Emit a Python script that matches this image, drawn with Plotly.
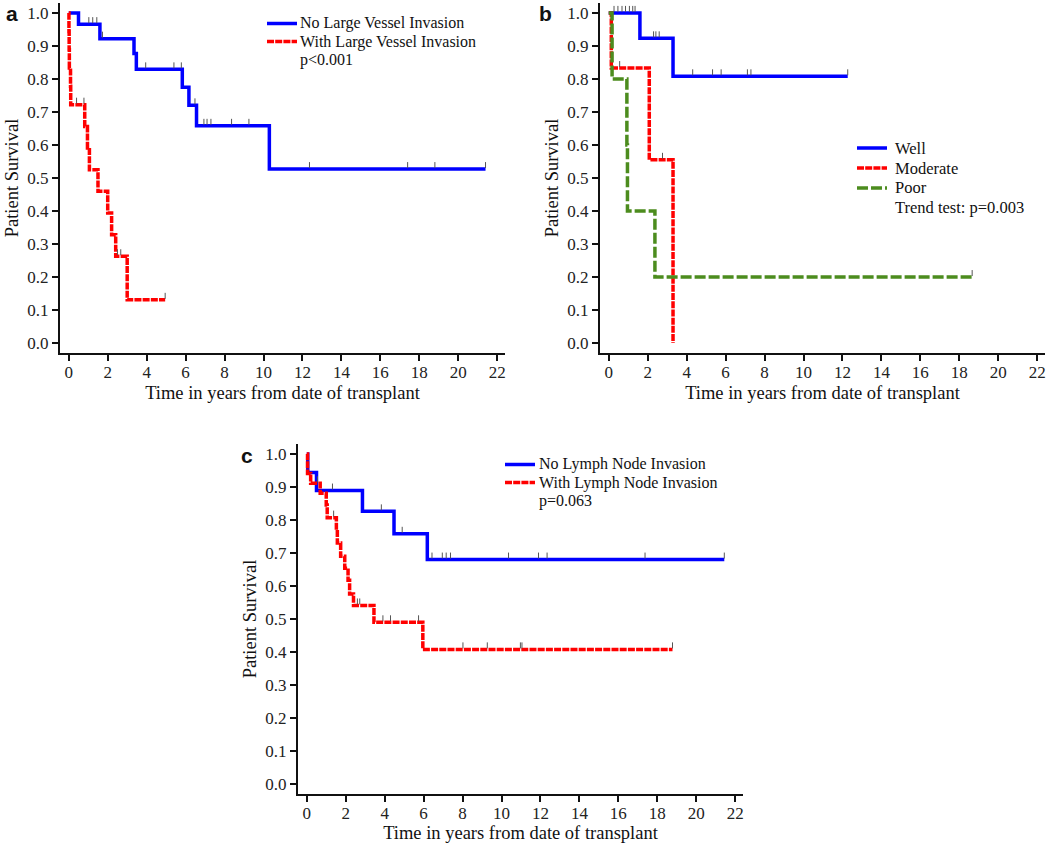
import numpy as np
import plotly.graph_objects as go

# ---- data (step times in years, survival after each step) ----
# panel a
a_no_t = [0, 0.5, 1.6, 3.35, 3.47, 5.83, 6.17, 6.56, 10.3, 21.4]
a_no_s = [1.0, 0.966, 0.922, 0.877, 0.829, 0.775, 0.72, 0.658, 0.527, 0.527]
a_no_cens = [1.03, 1.23, 1.44, 1.73, 3.95, 5.4, 5.78, 6.48, 6.94, 7.1, 7.3, 8.36, 9.25,
             12.36, 17.4, 18.8, 21.4]
a_with_t = [0, 0.01, 0.02, 0.03, 0.09, 0.1, 0.82, 0.96, 1.06, 1.5, 2.0, 2.2, 2.41, 3.0, 4.95]
a_with_s = [1.0, 0.944, 0.889, 0.833, 0.778, 0.722, 0.656, 0.591, 0.525, 0.46, 0.394,
            0.328, 0.263, 0.131, 0.131]
a_with_cens = [0.4, 0.78, 2.5, 2.67, 4.95]
a_labels = ["No Large Vessel Invasion", "With Large Vessel Invasion"]
a_note = "p<0.001"

# panel b
b_well_t = [0, 1.6, 3.3, 12.27]
b_well_s = [1.0, 0.923, 0.808, 0.808]
b_well_cens = [0.27, 0.47, 0.68, 0.86, 1.06, 1.23, 1.35, 2.3, 2.42, 2.59, 4.31, 5.33,
               5.77, 7.12, 7.3, 12.27]
b_mod_t = [0, 0.13, 2.08, 3.3]
b_mod_s = [1.0, 0.833, 0.555, 0.0]
b_mod_cens = [0.56, 2.76]
b_poor_t = [0, 0.17, 0.93, 0.96, 2.37, 18.66]
b_poor_s = [1.0, 0.8, 0.6, 0.4, 0.2, 0.2]
b_poor_cens = [18.66]
b_labels = ["Well", "Moderate", "Poor"]
b_note = "Trend test: p=0.003"

# panel c
c_no_t = [0, 0.05, 0.5, 2.86, 4.48, 6.19, 21.44]
c_no_s = [1.0, 0.944, 0.889, 0.826, 0.758, 0.68, 0.68]
c_no_cens = [1.32, 3.83, 4.9, 6.43, 6.96, 7.16, 7.38, 10.36, 11.9, 12.34, 17.37, 21.44]
c_with_t = [0, 0.04, 0.2, 0.69, 1.0, 1.05, 1.52, 1.57, 1.74, 1.95, 2.12, 2.2, 2.4, 3.45,
            5.96, 18.78]
c_with_s = [1.0, 0.941, 0.911, 0.881, 0.845, 0.807, 0.77, 0.73, 0.69, 0.654, 0.617,
            0.576, 0.541, 0.49, 0.408, 0.408]
c_with_cens = [0.55, 1.38, 2.6, 2.72, 3.91, 4.3, 5.74, 8.02, 9.27, 10.97, 11.05, 18.78]
c_labels = ["No Lymph Node Invasion", "With Lymph Node Invasion"]
c_note = "p=0.063"

x_ticks = list(range(0, 23, 2))
y_ticks = [round(0.1 * i, 1) for i in range(11)]

BLUE = "#0000FF"
RED = "#FF0000"
GREEN = "#4C8C1E"
SERIF = "Liberation Serif"
RED_DASH = "7px,1.2px"
GREEN_DASH = "11px,3px"

W, H = 1050, 843

fig = go.Figure()
shapes = []
annotations = []


def level_at(times, surv, t):
    # survival level of the step curve at time t
    i = np.searchsorted(times, t, side="right") - 1
    return surv[max(i, 0)]


def add_curve(times, surv, cens, name, color, dash, ax):
    xa = "x" if ax == 1 else "x%d" % ax
    ya = "y" if ax == 1 else "y%d" % ax
    fig.add_trace(go.Scatter(x=times, y=surv, mode="lines", line_shape="hv",
                             line=dict(color=color, width=3.5, dash=dash),
                             name=name, xaxis=xa, yaxis=ya, showlegend=False))
    # censoring marks: small ticks sitting on the curve
    for t in cens:
        lv = level_at(times, surv, t)
        shapes.append(dict(type="line", xref=xa, yref=ya, x0=t, x1=t,
                           ysizemode="pixel", yanchor=lv, y0=1, y1=7,
                           line=dict(color="#555555", width=1)))


def add_legend(labels, styles, note, left, top, step, text_x, size):
    # legend drawn in the paper, as in the original figure
    rows = list(zip(labels, styles)) + [(note, None)]
    for k, (lab, st) in enumerate(rows):
        yc = 1 - (top + k * step) / H
        if st is not None:
            shapes.append(dict(type="line", xref="paper", yref="paper",
                               x0=left / W, x1=(left + 30) / W, y0=yc, y1=yc,
                               line=dict(color=st[0], width=3.5, dash=st[1])))
        annotations.append(dict(text=lab, x=text_x / W, y=yc, xref="paper", yref="paper",
                                xanchor="left", yanchor="middle", showarrow=False,
                                font=dict(family=SERIF, size=size, color="#111")))


add_curve(a_no_t, a_no_s, a_no_cens, a_labels[0], BLUE, "solid", 1)
add_curve(a_with_t, a_with_s, a_with_cens, a_labels[1], RED, RED_DASH, 1)

add_curve(b_well_t, b_well_s, b_well_cens, b_labels[0], BLUE, "solid", 2)
add_curve(b_mod_t, b_mod_s, b_mod_cens, b_labels[1], RED, RED_DASH, 2)
add_curve(b_poor_t, b_poor_s, b_poor_cens, b_labels[2], GREEN, GREEN_DASH, 2)

add_curve(c_no_t, c_no_s, c_no_cens, c_labels[0], BLUE, "solid", 3)
add_curve(c_with_t, c_with_s, c_with_cens, c_labels[1], RED, RED_DASH, 3)

add_legend(a_labels, [(BLUE, "solid"), (RED, RED_DASH)], a_note, 267, 23.5, 18, 298, 16)
add_legend(b_labels, [(BLUE, "solid"), (RED, RED_DASH), (GREEN, GREEN_DASH)], b_note,
           857, 148, 20, 893, 16.5)
add_legend(c_labels, [(BLUE, "solid"), (RED, RED_DASH)], c_note, 505, 464.5, 18, 537, 16)


def px_x(a, b):
    return [a / W, b / W]


def px_y(top, bottom):
    return [1 - bottom / H, 1 - top / H]


def xaxis(dom, anchor):
    return dict(domain=dom, anchor=anchor, range=[-0.45, 22.4], tickvals=x_ticks,
                showline=True, linecolor="#111", linewidth=2, ticks="outside",
                ticklen=6, tickwidth=2, tickcolor="#111", showgrid=False, zeroline=False,
                ticklabelstandoff=-3,
                tickfont=dict(family=SERIF, size=17, color="#222"),
                title=dict(text="Time in years from date of transplant", standoff=5,
                           font=dict(family=SERIF, size=18.5, color="#111")))


def yaxis(dom, anchor):
    return dict(domain=dom, anchor=anchor, range=[-0.03, 1.03], tickvals=y_ticks,
                tickformat=".1f",
                showline=True, linecolor="#111", linewidth=2, ticks="outside",
                ticklen=6, tickwidth=2, tickcolor="#111", showgrid=False, zeroline=False,
                tickfont=dict(family=SERIF, size=17, color="#222"),
                title=dict(text="Patient Survival", standoff=4,
                           font=dict(family=SERIF, size=18.5, color="#111")))


letter_font = dict(family="Liberation Sans", size=21, color="#111")
annotations += [
    dict(text="<b>a</b>", x=12 / W, y=1 - 14 / H, xref="paper", yref="paper",
         xanchor="center", yanchor="middle", showarrow=False, font=letter_font),
    dict(text="<b>b</b>", x=545 / W, y=1 - 14 / H, xref="paper", yref="paper",
         xanchor="center", yanchor="middle", showarrow=False, font=letter_font),
    dict(text="<b>c</b>", x=247 / W, y=1 - 455 / H, xref="paper", yref="paper",
         xanchor="center", yanchor="middle", showarrow=False, font=letter_font),
]

fig.update_layout(
    width=W, height=H, margin=dict(l=0, r=0, t=0, b=0),
    plot_bgcolor="white", paper_bgcolor="white", showlegend=False,
    xaxis=xaxis(px_x(60, 505), "y"), yaxis=yaxis(px_y(3, 353), "x"),
    xaxis2=xaxis(px_x(600, 1045), "y2"), yaxis2=yaxis(px_y(3, 353), "x2"),
    xaxis3=xaxis(px_x(298, 743), "y3"), yaxis3=yaxis(px_y(444, 794), "x3"),
    shapes=shapes,
    annotations=annotations,
)

# drop the default page margin so the figure sits at the window's top-left corner
fig.write_html("out.html", config={"displayModeBar": False},
               post_script="document.body.style.margin='0px';")
